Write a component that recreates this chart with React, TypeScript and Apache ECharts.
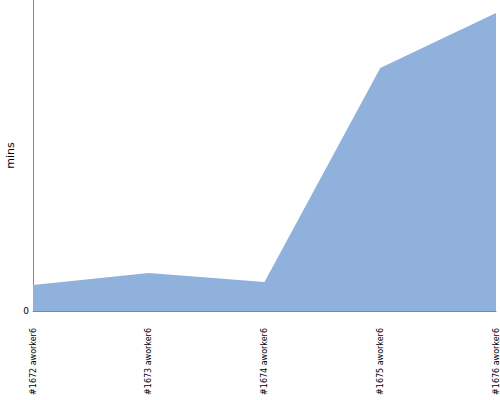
import React, { useEffect, useRef } from "react";
import * as echarts from "echarts";

const categories = ["#1672 aworker6", "#1673 aworker6", "#1674 aworker6", "#1675 aworker6", "#1676 aworker6"];
const minsValues = [8.4, 12.2, 9.3, 78.1, 95.8];
const yMax = 100;

export default function App() {
  const ref = useRef<HTMLDivElement>(null);
  useEffect(() => {
    const chart = echarts.init(ref.current!, null, { renderer: "svg" });
    chart.setOption({
      animation: false,
      grid: { left: 33, right: 4, top: 0, bottom: 89, containLabel: false, outerBoundsMode: "none" },
      xAxis: {
        type: "category",
        data: categories,
        boundaryGap: false,
        axisLine: { lineStyle: { color: "#888", width: 1 } },
        axisTick: { show: false },
        axisLabel: {
          rotate: 90,
          margin: 17,
          fontSize: 8,
          color: "#000",
          fontFamily: "DejaVu Sans",
          interval: 0,
        },
        splitLine: { show: false },
      },
      yAxis: {
        type: "value",
        min: 0,
        max: yMax,
        interval: yMax,
        name: "mins",
        nameLocation: "middle",
        nameGap: 17,
        nameMoveOverlap: false,
        nameTextStyle: { fontSize: 11, color: "#000", fontFamily: "DejaVu Sans" },
        axisLine: { show: true, lineStyle: { color: "#888", width: 1 } },
        axisTick: { show: false },
        axisLabel: {
          fontSize: 9,
          color: "#000",
          margin: 4,
          fontFamily: "DejaVu Sans",
          formatter: (v: number) => (v === 0 ? "0" : ""),
        },
        splitLine: { show: false },
      },
      series: [
        {
          type: "line",
          data: minsValues,
          symbol: "none",
          lineStyle: { width: 0, color: "#8fb1db" },
          itemStyle: { color: "#8fb1db" },
          areaStyle: { color: "#8fb1db", opacity: 1 },
        },
      ],
    });
    return () => chart.dispose();
  }, []);
  return <div ref={ref} style={{ width: 500, height: 400, position: "absolute", left: 0, top: 0 }} />;
}
